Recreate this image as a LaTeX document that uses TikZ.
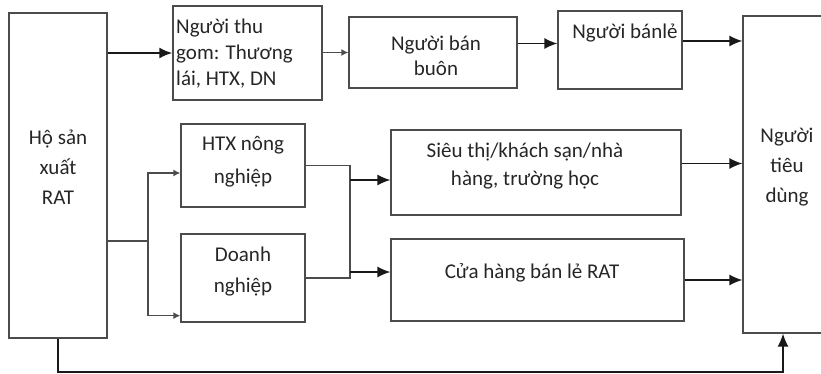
\documentclass[tikz,border=0pt]{standalone}
\usepackage{fontspec}
\setmainfont{Carlito}
\usetikzlibrary{positioning,arrows.meta}

\begin{document}
\begin{tikzpicture}[
		x=1pt,y=-1pt,
		box/.style={
			draw=black!70,
			line width=1.3pt,
			rectangle,
			inner sep=0pt
		},
		txt/.style={
			font=\fontsize{21}{28}\selectfont,
			text=black!85,
			align=center,
			inner sep=0pt
		},
		link/.style={
			draw=black!70,
			line width=1.4pt
		},
		arr/.style={
			link,
			draw=black!90,
			-{Latex[length=13pt,width=11pt]}
		},
		arrsmall/.style={
			link,
			-{Latex[length=7pt,width=7pt]}
		},
		>=latex
		]
		\useasboundingbox (0,0) rectangle (821,374);
		% boxes
		\node[box, minimum width=98pt, minimum height=325pt] (ho) at (58,175.5) {};
		\node[box, minimum width=149pt, minimum height=94pt] (thugom) at (247.5,53) {};
		\node[box, minimum width=168pt, minimum height=71pt] (banbuon) at (433,52.5) {};
		\node[box, minimum width=124pt, minimum height=78pt] (banle) at (620,50) {};
		\node[box, minimum width=100pt, minimum height=317pt] (tieudung) at (793,174.5) {};
		\node[box, minimum width=124pt, minimum height=83pt] (htx) at (243,165.5) {};
		\node[box, minimum width=124pt, minimum height=88pt] (doanh) at (243,278) {};
		\node[box, minimum width=290pt, minimum height=85pt] (sieuthi) at (536,172.5) {};
		\node[box, minimum width=293pt, minimum height=82pt] (cuahang) at (537.5,280) {};
		% texts
		\node[txt, font=\fontsize{21}{30}\selectfont] (hotxt) at (58,167) {Hộ sản\\xuất\\RAT};
		\node[txt, font=\fontsize{21}{26}\selectfont, align=left, anchor=west] (thugomtxt) at (176,54) {Người thu\\gom: Thương\\lái, HTX, DN};
		\node[txt, font=\fontsize{21}{25}\selectfont] (banbuontxt) at (436,55.5) {Người bán\\buôn};
		\node[txt] (banletxt) at (625,33) {Người bánlẻ};
		\node[txt, font=\fontsize{21}{30}\selectfont] (tieudungtxt) at (787,167) {Người\\tiêu\\dùng};
		\node[txt, font=\fontsize{21}{33}\selectfont] (htxtxt) at (243,161.5) {HTX nông\\nghiệp};
		\node[txt, font=\fontsize{21}{31}\selectfont] (doanhtxt) at (243,271.5) {Doanh\\nghiệp};
		\node[txt] (sieuthitxt) at (525,166) {Siêu thị/khách sạn/nhà\\hàng, trường học};
		\node[txt] (cuahangtxt) at (532,273) {Cửa hàng bán lẻ RAT};
		% free ends
		\coordinate (split) at (148,241);
		\coordinate (ja) at (350,180);
		\coordinate (jb) at (350,272);
		\coordinate (low) at (783,372);
		% top row
		\draw[arr, line width=2pt] (ho.east |- thugom.west) -- (thugom.west);
		\draw[arrsmall] (thugom.east |- banbuon.west) -- (banbuon.west);
		\draw[arr] ([yshift=9pt]banbuon.east) -- ([yshift=9pt]banbuon.east -| banle.west);
		\draw[arr] ([yshift=9pt]banle.east) -- ([yshift=9pt]banle.east -| tieudung.west);
		% lower rows
		\draw[link] (split -| ho.east) -- (split);
		\draw[arrsmall] (split) |- ([yshift=-7.5pt]htx.west);
		\draw[arrsmall] (split) |- ([yshift=7pt]doanh.south west);
		\draw[link] (htx.east) -| (ja) -- (jb) |- (doanh.east);
		\draw[arr] (ja) -- (ja -| sieuthi.west);
		\draw[arr] (jb) -- (jb -| cuahang.west);
		\foreach \src/\dy in {sieuthi/9,cuahang/0}
			\draw[arr] ([yshift=\dy pt]\src.east) -- ([yshift=\dy pt]\src.east -| tieudung.west);
		\draw[arr] (ho.south) |- (low) -- (low |- tieudung.south);
\end{tikzpicture}
\end{document}
